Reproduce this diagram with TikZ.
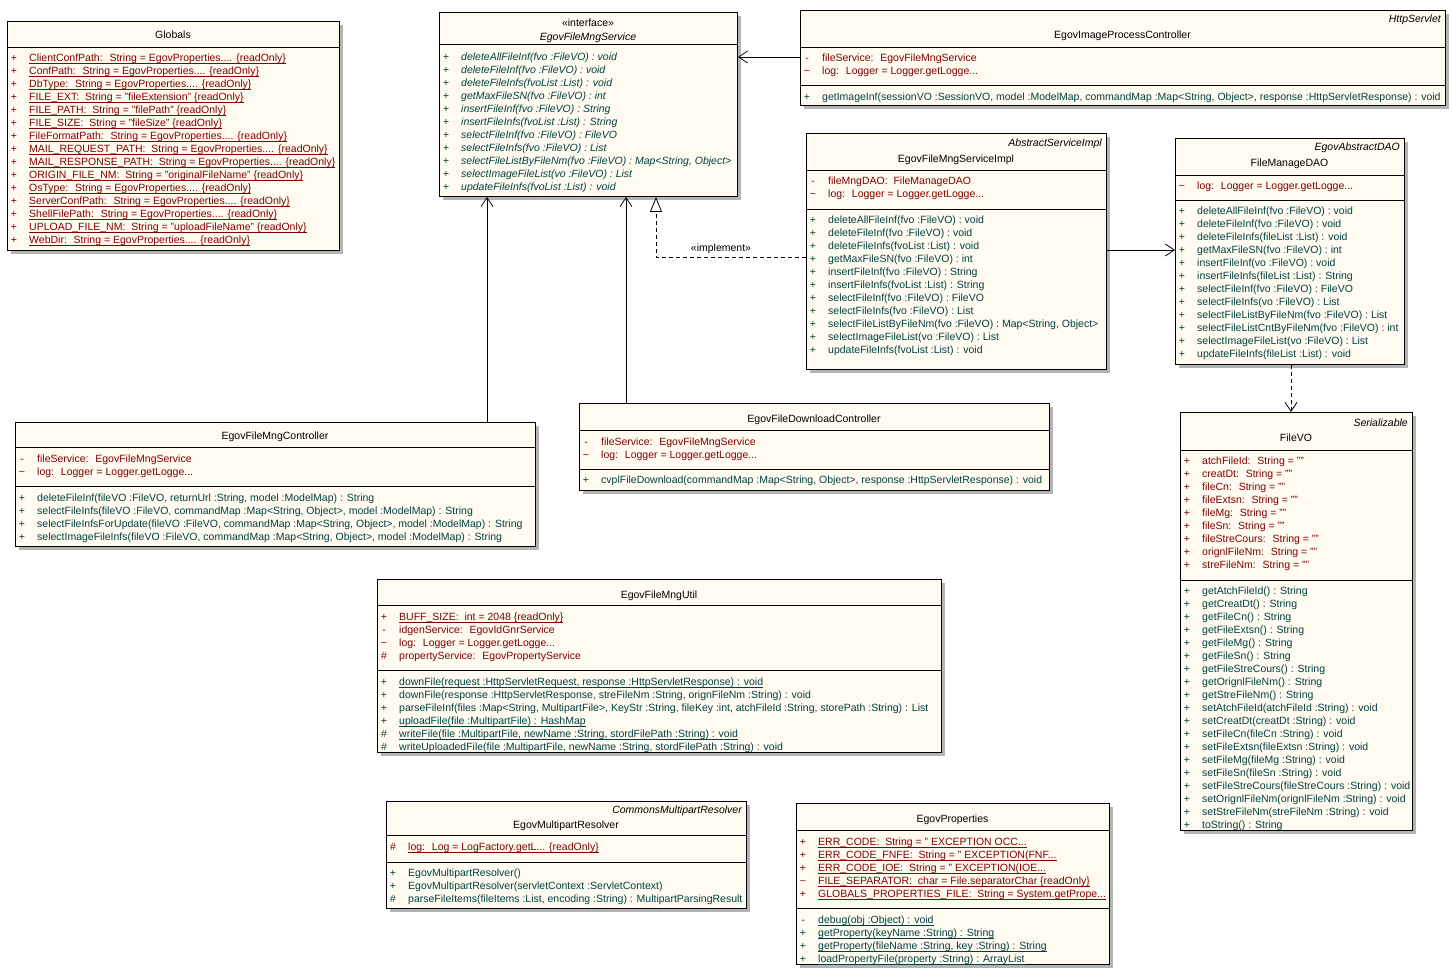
\documentclass[tikz,border=0pt]{standalone}
\usepackage{fontspec}
\setmainfont{Liberation Sans}
\usetikzlibrary{arrows.meta}
\definecolor{boxfill}{RGB}{255,251,240}
\definecolor{attrc}{RGB}{128,0,0}
\definecolor{opc}{RGB}{0,64,64}
\definecolor{shadowc}{RGB}{180,180,180}
\newcommand\fs{\fontsize{10.5}{12}\selectfont}
\newcommand\ul[1]{\setbox0=\hbox{#1}\rlap{\rule[-2.3pt]{\wd0}{0.8pt}}\box0}
\newcounter{rowc}
\newcommand\umlclass[5]{%
  \fill[shadowc] (#2+4,#3+4) rectangle (#4+4,#5+4);
  \node[umlbox, minimum width={(#4-#2)*1pt}, minimum height={(#5-#3)*1pt}] (#1) at (#2,#3) {};}
\newcommand\hsep[3]{\draw[sepline] (#1,#3) -- (#2,#3);}
\newcommand\row[5]{%
  \stepcounter{rowc}\edef\rn{r\arabic{rowc}}%
  \node[symtxt,#3] (\rn s) at (#1+7,#2+4) {#4};
  \node[rowtxt,#3] (\rn) at (#1+22,#2+4) {#5};}
\tikzset{
  umlbox/.style={draw=black, fill=boxfill, line width=0.9pt, inner sep=0pt, anchor=north west},
  rowtxt/.style={font=\fs, anchor=base west, inner sep=0pt},
  symtxt/.style={font=\fs, anchor=base, inner sep=0pt},
  ttl/.style={font=\fs, anchor=base, inner sep=0pt},
  stereo/.style={font=\fs\itshape, anchor=base east, inner sep=0pt},
  attr/.style={text=attrc},
  op/.style={text=opc},
  ital/.style={font=\fs\itshape},
  sepline/.style={draw=black, line width=0.9pt},
  assoc/.style={draw=black, line width=0.8pt, -{Straight Barb[length=9pt,width=12pt]}},
  realize/.style={draw=black, line width=0.8pt, dash pattern=on 4pt off 3pt, -{Triangle[open,length=15pt,width=12pt]}},
  dep/.style={draw=black, line width=0.8pt, dash pattern=on 4pt off 3pt, -{Straight Barb[length=9pt,width=12pt]}},
}
\begin{document}
\begin{tikzpicture}[x=1pt,y=-1pt]
\useasboundingbox (0,0) rectangle (1452,976);
\fill[white] (0,0) rectangle (1452,976);

% ---------- Globals ----------
\umlclass{glob}{7}{21}{339}{250}
\node[ttl] (globT) at (173,39) {Globals};
\hsep{7}{339}{47}
\row{7}{58}{attr}{+}{\ul{ClientConfPath: \ String = EgovProperties.... \{readOnly\}}}
\row{7}{71}{attr}{+}{\ul{ConfPath: \ String = EgovProperties.... \{readOnly\}}}
\row{7}{84}{attr}{+}{\ul{DbType: \ String = EgovProperties.... \{readOnly\}}}
\row{7}{97}{attr}{+}{\ul{FILE\_EXT: \ String = "fileExtension" \{readOnly\}}}
\row{7}{110}{attr}{+}{\ul{FILE\_PATH: \ String = "filePath" \{readOnly\}}}
\row{7}{123}{attr}{+}{\ul{FILE\_SIZE: \ String = "fileSize" \{readOnly\}}}
\row{7}{136}{attr}{+}{\ul{FileFormatPath: \ String = EgovProperties.... \{readOnly\}}}
\row{7}{149}{attr}{+}{\ul{MAIL\_REQUEST\_PATH: \ String = EgovProperties.... \{readOnly\}}}
\row{7}{162}{attr}{+}{\ul{MAIL\_RESPONSE\_PATH: \ String = EgovProperties.... \{readOnly\}}}
\row{7}{175}{attr}{+}{\ul{ORIGIN\_FILE\_NM: \ String = "originalFileName" \{readOnly\}}}
\row{7}{188}{attr}{+}{\ul{OsType: \ String = EgovProperties.... \{readOnly\}}}
\row{7}{201}{attr}{+}{\ul{ServerConfPath: \ String = EgovProperties.... \{readOnly\}}}
\row{7}{214}{attr}{+}{\ul{ShellFilePath: \ String = EgovProperties.... \{readOnly\}}}
\row{7}{227}{attr}{+}{\ul{UPLOAD\_FILE\_NM: \ String = "uploadFileName" \{readOnly\}}}
\row{7}{240}{attr}{+}{\ul{WebDir: \ String = EgovProperties.... \{readOnly\}}}

% ---------- Interface ----------
\umlclass{iface}{439}{12}{737}{196}
\node[ttl] (ifaceS) at (588,27) {«interface»};
\node[ttl,ital] (ifaceT) at (588,41) {EgovFileMngService};
\hsep{439}{737}{44}
\row{439}{57}{op,ital}{+}{deleteAllFileInf(fvo :FileVO) : void}
\row{439}{70}{op,ital}{+}{deleteFileInf(fvo :FileVO) : void}
\row{439}{83}{op,ital}{+}{deleteFileInfs(fvoList :List) : void}
\row{439}{96}{op,ital}{+}{getMaxFileSN(fvo :FileVO) : int}
\row{439}{109}{op,ital}{+}{insertFileInf(fvo :FileVO) : String}
\row{439}{122}{op,ital}{+}{insertFileInfs(fvoList :List) : String}
\row{439}{135}{op,ital}{+}{selectFileInf(fvo :FileVO) : FileVO}
\row{439}{148}{op,ital}{+}{selectFileInfs(fvo :FileVO) : List}
\row{439}{161}{op,ital}{+}{selectFileListByFileNm(fvo :FileVO) : Map<String, Object>}
\row{439}{174}{op,ital}{+}{selectImageFileList(vo :FileVO) : List}
\row{439}{187}{op,ital}{+}{updateFileInfs(fvoList :List) : void}

% ---------- EgovImageProcessController ----------
\umlclass{ipc}{800}{10}{1445}{105}
\node[stereo] (ipcS) at (1441,23) {HttpServlet};
\node[ttl] (ipcT) at (1122.5,39) {EgovImageProcessController};
\hsep{800}{1445}{47}
\row{800}{57.5}{attr}{-}{fileService: \ EgovFileMngService}
\row{800}{70.5}{attr}{\textasciitilde}{log: \ Logger = Logger.getLogge...}
\hsep{800}{1445}{85}
\row{800}{96.5}{op}{+}{getImageInf(sessionVO :SessionVO, model :ModelMap, commandMap :Map<String, Object>, response :HttpServletResponse) : void}

% ---------- EgovFileMngServiceImpl ----------
\umlclass{impl}{806}{133}{1106}{369}
\node[stereo] (implS) at (1102,147) {AbstractServiceImpl};
\node[ttl] (implT) at (956,163) {EgovFileMngServiceImpl};
\hsep{806}{1106}{170}
\row{806}{181}{attr}{-}{fileMngDAO: \ FileManageDAO}
\row{806}{194}{attr}{\textasciitilde}{log: \ Logger = Logger.getLogge...}
\hsep{806}{1106}{209}
\row{806}{220}{op}{+}{deleteAllFileInf(fvo :FileVO) : void}
\row{806}{233}{op}{+}{deleteFileInf(fvo :FileVO) : void}
\row{806}{246}{op}{+}{deleteFileInfs(fvoList :List) : void}
\row{806}{259}{op}{+}{getMaxFileSN(fvo :FileVO) : int}
\row{806}{272}{op}{+}{insertFileInf(fvo :FileVO) : String}
\row{806}{285}{op}{+}{insertFileInfs(fvoList :List) : String}
\row{806}{298}{op}{+}{selectFileInf(fvo :FileVO) : FileVO}
\row{806}{311}{op}{+}{selectFileInfs(fvo :FileVO) : List}
\row{806}{324}{op}{+}{selectFileListByFileNm(fvo :FileVO) : Map<String, Object>}
\row{806}{337}{op}{+}{selectImageFileList(vo :FileVO) : List}
\row{806}{350}{op}{+}{updateFileInfs(fvoList :List) : void}

% ---------- FileManageDAO ----------
\umlclass{dao}{1175}{138}{1404}{364}
\node[stereo] (daoS) at (1400,151) {EgovAbstractDAO};
\node[ttl] (daoT) at (1289.5,167) {FileManageDAO};
\hsep{1175}{1404}{175}
\row{1175}{185.5}{attr}{\textasciitilde}{log: \ Logger = Logger.getLogge...}
\hsep{1175}{1404}{200}
\row{1175}{211}{op}{+}{deleteAllFileInf(fvo :FileVO) : void}
\row{1175}{224}{op}{+}{deleteFileInf(fvo :FileVO) : void}
\row{1175}{237}{op}{+}{deleteFileInfs(fileList :List) : void}
\row{1175}{250}{op}{+}{getMaxFileSN(fvo :FileVO) : int}
\row{1175}{263}{op}{+}{insertFileInf(vo :FileVO) : void}
\row{1175}{276}{op}{+}{insertFileInfs(fileList :List) : String}
\row{1175}{289}{op}{+}{selectFileInf(fvo :FileVO) : FileVO}
\row{1175}{302}{op}{+}{selectFileInfs(vo :FileVO) : List}
\row{1175}{315}{op}{+}{selectFileListByFileNm(fvo :FileVO) : List}
\row{1175}{328}{op}{+}{selectFileListCntByFileNm(fvo :FileVO) : int}
\row{1175}{341}{op}{+}{selectImageFileList(vo :FileVO) : List}
\row{1175}{354}{op}{+}{updateFileInfs(fileList :List) : void}

% ---------- FileVO ----------
\umlclass{vo}{1180}{412}{1412}{830}
\node[stereo] (voS) at (1408,426) {Serializable};
\node[ttl] (voT) at (1296,442) {FileVO};
\hsep{1180}{1412}{450}
\row{1180}{460}{attr}{+}{atchFileId: \ String = ""}
\row{1180}{473}{attr}{+}{creatDt: \ String = ""}
\row{1180}{486}{attr}{+}{fileCn: \ String = ""}
\row{1180}{499}{attr}{+}{fileExtsn: \ String = ""}
\row{1180}{512}{attr}{+}{fileMg: \ String = ""}
\row{1180}{525}{attr}{+}{fileSn: \ String = ""}
\row{1180}{538}{attr}{+}{fileStreCours: \ String = ""}
\row{1180}{551}{attr}{+}{orignlFileNm: \ String = ""}
\row{1180}{564}{attr}{+}{streFileNm: \ String = ""}
\hsep{1180}{1412}{580}
\row{1180}{590}{op}{+}{getAtchFileId() : String}
\row{1180}{603}{op}{+}{getCreatDt() : String}
\row{1180}{616}{op}{+}{getFileCn() : String}
\row{1180}{629}{op}{+}{getFileExtsn() : String}
\row{1180}{642}{op}{+}{getFileMg() : String}
\row{1180}{655}{op}{+}{getFileSn() : String}
\row{1180}{668}{op}{+}{getFileStreCours() : String}
\row{1180}{681}{op}{+}{getOrignlFileNm() : String}
\row{1180}{694}{op}{+}{getStreFileNm() : String}
\row{1180}{707}{op}{+}{setAtchFileId(atchFileId :String) : void}
\row{1180}{720}{op}{+}{setCreatDt(creatDt :String) : void}
\row{1180}{733}{op}{+}{setFileCn(fileCn :String) : void}
\row{1180}{746}{op}{+}{setFileExtsn(fileExtsn :String) : void}
\row{1180}{759}{op}{+}{setFileMg(fileMg :String) : void}
\row{1180}{772}{op}{+}{setFileSn(fileSn :String) : void}
\row{1180}{785}{op}{+}{setFileStreCours(fileStreCours :String) : void}
\row{1180}{798}{op}{+}{setOrignlFileNm(orignlFileNm :String) : void}
\row{1180}{811}{op}{+}{setStreFileNm(streFileNm :String) : void}
\row{1180}{824}{op}{+}{toString() : String}

% ---------- EgovFileMngController ----------
\umlclass{ctrl}{15}{422}{535}{546}
\node[ttl] (ctrlT) at (275,439) {EgovFileMngController};
\hsep{15}{535}{447}
\row{15}{458}{attr}{-}{fileService: \ EgovFileMngService}
\row{15}{471}{attr}{\textasciitilde}{log: \ Logger = Logger.getLogge...}
\hsep{15}{535}{486}
\row{15}{497}{op}{+}{deleteFileInf(fileVO :FileVO, returnUrl :String, model :ModelMap) : String}
\row{15}{510}{op}{+}{selectFileInfs(fileVO :FileVO, commandMap :Map<String, Object>, model :ModelMap) : String}
\row{15}{523}{op}{+}{selectFileInfsForUpdate(fileVO :FileVO, commandMap :Map<String, Object>, model :ModelMap) : String}
\row{15}{536}{op}{+}{selectImageFileInfs(fileVO :FileVO, commandMap :Map<String, Object>, model :ModelMap) : String}

% ---------- EgovFileDownloadController ----------
\umlclass{dl}{579}{403}{1049}{490}
\node[ttl] (dlT) at (814,423) {EgovFileDownloadController};
\hsep{579}{1049}{430}
\row{579}{441}{attr}{-}{fileService: \ EgovFileMngService}
\row{579}{454}{attr}{\textasciitilde}{log: \ Logger = Logger.getLogge...}
\hsep{579}{1049}{469}
\row{579}{479.5}{op}{+}{cvplFileDownload(commandMap :Map<String, Object>, response :HttpServletResponse) : void}

% ---------- EgovFileMngUtil ----------
\umlclass{util}{377}{579}{941}{752}
\node[ttl] (utilT) at (659,598) {EgovFileMngUtil};
\hsep{377}{941}{605}
\row{377}{616}{attr}{+}{\ul{BUFF\_SIZE: \ int = 2048 \{readOnly\}}}
\row{377}{629}{attr}{-}{idgenService: \ EgovIdGnrService}
\row{377}{642}{attr}{\textasciitilde}{log: \ Logger = Logger.getLogge...}
\row{377}{655}{attr}{\#}{propertyService: \ EgovPropertyService}
\hsep{377}{941}{670}
\row{377}{681}{op}{+}{\ul{downFile(request :HttpServletRequest, response :HttpServletResponse) : void}}
\row{377}{694}{op}{+}{downFile(response :HttpServletResponse, streFileNm :String, orignFileNm :String) : void}
\row{377}{707}{op}{+}{parseFileInf(files :Map<String, MultipartFile>, KeyStr :String, fileKey :int, atchFileId :String, storePath :String) : List}
\row{377}{720}{op}{+}{\ul{uploadFile(file :MultipartFile) : HashMap}}
\row{377}{733}{op}{\#}{\ul{writeFile(file :MultipartFile, newName :String, stordFilePath :String) : void}}
\row{377}{746}{op}{\#}{writeUploadedFile(file :MultipartFile, newName :String, stordFilePath :String) : void}

% ---------- EgovMultipartResolver ----------
\umlclass{mpr}{386}{801}{746}{908}
\node[stereo] (mprS) at (742,813) {CommonsMultipartResolver};
\node[ttl] (mprT) at (566,828) {EgovMultipartResolver};
\hsep{386}{746}{835}
\row{386}{846}{attr}{\#}{\ul{log: \ Log = LogFactory.getL... \{readOnly\}}}
\hsep{386}{746}{862}
\row{386}{872}{op}{+}{EgovMultipartResolver()}
\row{386}{885}{op}{+}{EgovMultipartResolver(servletContext :ServletContext)}
\row{386}{898}{op}{\#}{parseFileItems(fileItems :List, encoding :String) : MultipartParsingResult}

% ---------- EgovProperties ----------
\umlclass{props}{796}{803}{1109}{964}
\node[ttl] (propsT) at (952.5,822) {EgovProperties};
\hsep{796}{1109}{830}
\row{796}{841}{attr}{+}{\ul{ERR\_CODE: \ String = " EXCEPTION OCC...}}
\row{796}{854}{attr}{+}{\ul{ERR\_CODE\_FNFE: \ String = " EXCEPTION(FNF...}}
\row{796}{867}{attr}{+}{\ul{ERR\_CODE\_IOE: \ String = " EXCEPTION(IOE...}}
\row{796}{880}{attr}{\textasciitilde}{\ul{FILE\_SEPARATOR: \ char = File.separatorChar \{readOnly\}}}
\row{796}{893}{attr}{+}{\ul{GLOBALS\_PROPERTIES\_FILE: \ String = System.getPrope...}}
\hsep{796}{1109}{908}
\row{796}{919}{op}{-}{\ul{debug(obj :Object) : void}}
\row{796}{932}{op}{+}{\ul{getProperty(keyName :String) : String}}
\row{796}{945}{op}{+}{\ul{getProperty(fileName :String, key :String) : String}}
\row{796}{958}{op}{+}{\ul{loadPropertyFile(property :String) : ArrayList}}

% ---------- Connectors ----------
\coordinate (y57) at (0,57);
\coordinate (x487) at (487,0);
\coordinate (x626) at (626,0);
\coordinate (x656) at (656,0);
\coordinate (y257) at (0,257);
\coordinate (y250) at (0,250);
\coordinate (x1291) at (1291,0);
\draw[assoc] (ipc.west |- y57) -- (iface.east |- y57);
\draw[assoc] (ctrl.north -| x487) -- (iface.south -| x487);
\draw[assoc] (dl.north -| x626) -- (iface.south -| x626);
\draw[realize] (impl.west |- y257) -| (iface.south -| x656);
\node[ttl] (implLbl) at (721,252) {«implement»};
\draw[assoc] (impl.east |- y250) -- (dao.west |- y250);
\draw[dep] (dao.south -| x1291) -- (vo.north -| x1291);
\end{tikzpicture}
\end{document}
